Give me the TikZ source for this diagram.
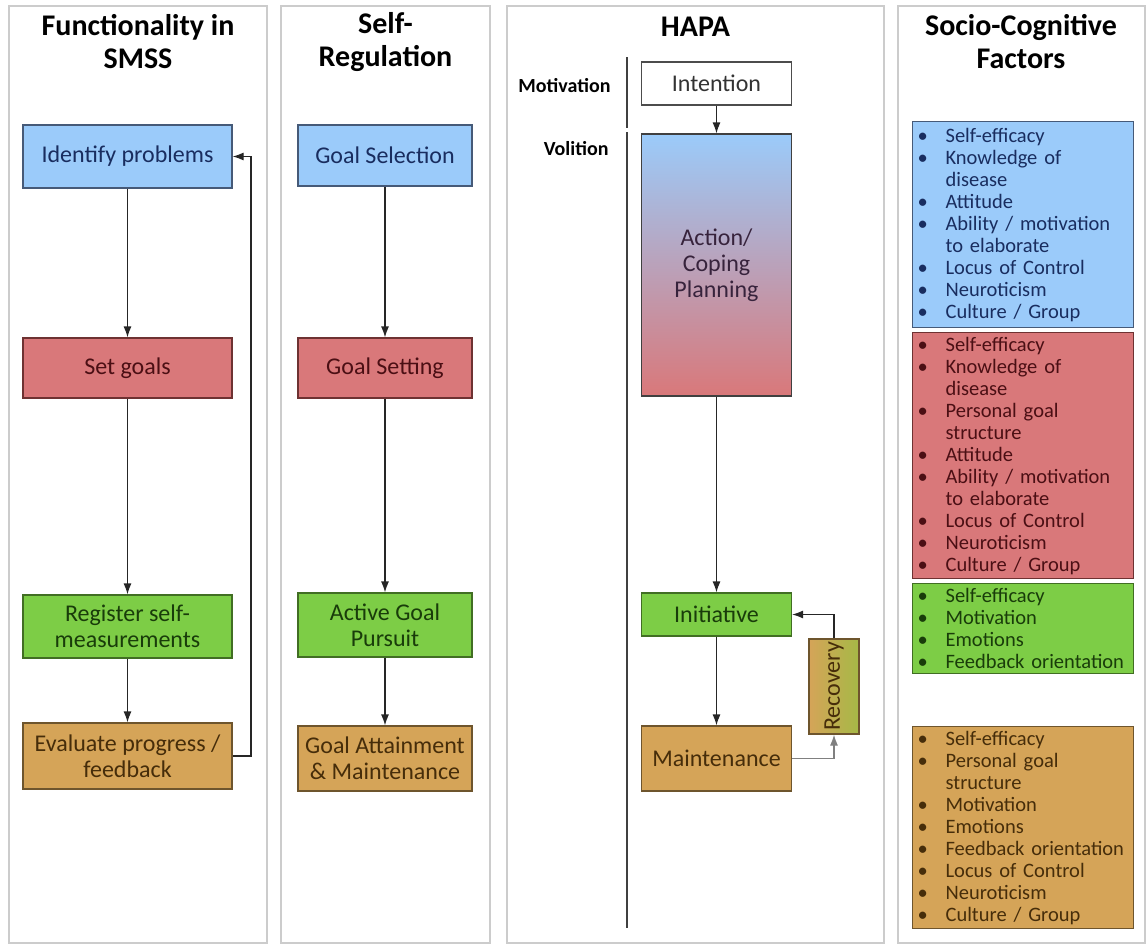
\documentclass[tikz,border=0pt]{standalone}
\usepackage{fontspec}
\setmainfont{Carlito}
\usepackage{tikz}
\usetikzlibrary{arrows.meta}
\definecolor{blueF}{RGB}{155,203,250}
\definecolor{redF}{RGB}{217,120,122}
\definecolor{greenF}{RGB}{125,205,70}
\definecolor{tanF}{RGB}{213,164,88}
\definecolor{blueD}{RGB}{70,90,120}
\definecolor{redD}{RGB}{110,50,50}
\definecolor{greenD}{RGB}{65,110,35}
\definecolor{tanD}{RGB}{110,85,45}
\definecolor{blueT}{RGB}{25,45,95}
\definecolor{redT}{RGB}{75,15,20}
\definecolor{greenT}{RGB}{25,60,10}
\definecolor{tanT}{RGB}{70,45,10}
\newcommand{\bul}{\makebox[28pt][l]{\textbullet}}
\newcommand{\ind}{\hspace*{28pt}}

\begin{document}
\begin{tikzpicture}[x=1pt,y=-1pt,
    panel/.style={draw=gray!40,line width=2pt},
    title/.style={font=\fontsize{30}{33}\selectfont\bfseries,align=center},
    phase/.style={font=\fontsize{20}{22}\selectfont\bfseries,anchor=east},
    box/.style={draw,line width=1.2pt,align=center,inner sep=2pt,font=\fontsize{24}{26}\selectfont},
    facts/.style={draw,line width=1.2pt,anchor=north west,align=left,text width=211pt,
      inner xsep=5pt,inner ysep=0pt,minimum width=221pt,font=\fontsize{20.5}{22}\selectfont},
    sblue/.style={fill=blueF,draw=blueD,text=blueT},
    sred/.style={fill=redF,draw=redD,text=redT},
    sgreen/.style={fill=greenF,draw=greenD,text=greenT},
    stan/.style={fill=tanF,draw=tanD,text=tanT},
    flow/.style={-{Latex[length=11pt,width=8pt]},line width=1.2pt,draw=black!85}]
  \useasboundingbox (0,0) rectangle (1148,945);

  % panels
  \draw[panel] (9,6) rectangle (267,943);
  \draw[panel] (281,6) rectangle (490,943);
  \draw[panel] (507,6) rectangle (884,943);
  \draw[panel] (898,6) rectangle (1145,943);

  \node[title] (t1) at (138,42) {Functionality in\\SMSS};
  \node[title] (t2) at (385.5,42) {Self-\\Regulation};
  \node[title] (t3) at (695.5,27) {HAPA};
  \node[title] (t4) at (1021,42) {Socio-Cognitive\\Factors};

  % functionality in SMSS
  \begin{scope}[every node/.style={box,minimum width=209pt}]
    \node[sblue,minimum height=63pt] (ident) at (127.5,156.5) {Identify problems};
    \node[sred,minimum height=60pt] (setg) at (127.5,368) {Set goals};
    \node[sgreen,minimum height=63pt] (regis) at (127.5,626.5) {Register self-\\measurements};
    \node[stan,minimum height=66pt] (evalu) at (127.5,756) {Evaluate progress /\\feedback};
  \end{scope}
  \draw[flow] (ident) -- (setg);
  \draw[flow] (setg) -- (regis);
  \draw[flow] (regis) -- (evalu);
  \coordinate (fbk) at (251,156.5);
  \draw[flow] (evalu.east) -| (fbk) -- (ident.east);

  % self-regulation
  \begin{scope}[every node/.style={box,minimum width=174pt}]
    \node[sblue,minimum height=61pt] (gsel) at (385,155.5) {Goal Selection};
    \node[sred,minimum height=60pt] (gset) at (385,368) {Goal Setting};
    \node[sgreen,minimum height=64pt] (gpur) at (385,625) {Active Goal\\Pursuit};
    \node[stan,minimum height=65pt] (gatt) at (385,758.5) {Goal Attainment\\\& Maintenance};
  \end{scope}
  \draw[flow] (gsel) -- (gset);
  \draw[flow] (gset) -- (gpur);
  \draw[flow] (gpur) -- (gatt);

  % HAPA
  \draw[line width=1.2pt,black!75] (627,57) -- (627,128);
  \draw[line width=1.2pt,black!75] (627,132) -- (627,928);
  \node[phase] (motiv) at (614,86) {Motivation};
  \node[phase] (voli) at (612,149) {Volition};
  \begin{scope}[every node/.style={box,minimum width=150pt}]
    \node[draw=black!70,text=black!80,fill=white,minimum height=43pt] (inten) at (716.5,83.5) {Intention};
    \node[draw=black!75,text={rgb,255:red,55;green,35;blue,60},top color=blueF,bottom color=redF,
      minimum height=262pt] (plan) at (716.5,265) {Action/\\Coping\\Planning};
    \node[sgreen,minimum height=43pt] (init) at (716.5,614.5) {Initiative};
    \node[stan,minimum height=65pt] (maint) at (716.5,758.5) {Maintenance};
  \end{scope}
  \node[box,rotate=90,minimum width=95pt,minimum height=50pt,draw=tanD,text=tanT,
    left color=tanF,right color={rgb,255:red,165;green,185;blue,70}] (recov) at (834,686.5) {Recovery};
  \draw[flow] (inten) -- (plan);
  \draw[flow] (plan) -- (init);
  \draw[flow] (init) -- (maint);
  \draw[flow,draw=gray] (maint.east) -| (recov.west);
  \draw[flow] (recov.east) |- (init.east);

  % socio-cognitive factors
  \node[facts,sblue,minimum height=206pt] (fblue) at (912,121) {\bul Self-efficacy\\\bul Knowledge of\\\ind disease\\\bul Attitude\\\bul Ability / motivation\\\ind to elaborate\\\bul Locus of Control\\\bul Neuroticism\\\bul Culture / Group};
  \node[facts,sred,minimum height=246pt] (fred) at (912,332) {\bul Self-efficacy\\\bul Knowledge of\\\ind disease\\\bul Personal goal\\\ind structure\\\bul Attitude\\\bul Ability / motivation\\\ind to elaborate\\\bul Locus of Control\\\bul Neuroticism\\\bul Culture / Group};
  \node[facts,sgreen,minimum height=90pt] (fgreen) at (912,583) {\bul Self-efficacy\\\bul Motivation\\\bul Emotions\\\bul Feedback orientation};
  \node[facts,stan,minimum height=202pt] (ftan) at (912,726) {\bul Self-efficacy\\\bul Personal goal\\\ind structure\\\bul Motivation\\\bul Emotions\\\bul Feedback orientation\\\bul Locus of Control\\\bul Neuroticism\\\bul Culture / Group};
\end{tikzpicture}
\end{document}
